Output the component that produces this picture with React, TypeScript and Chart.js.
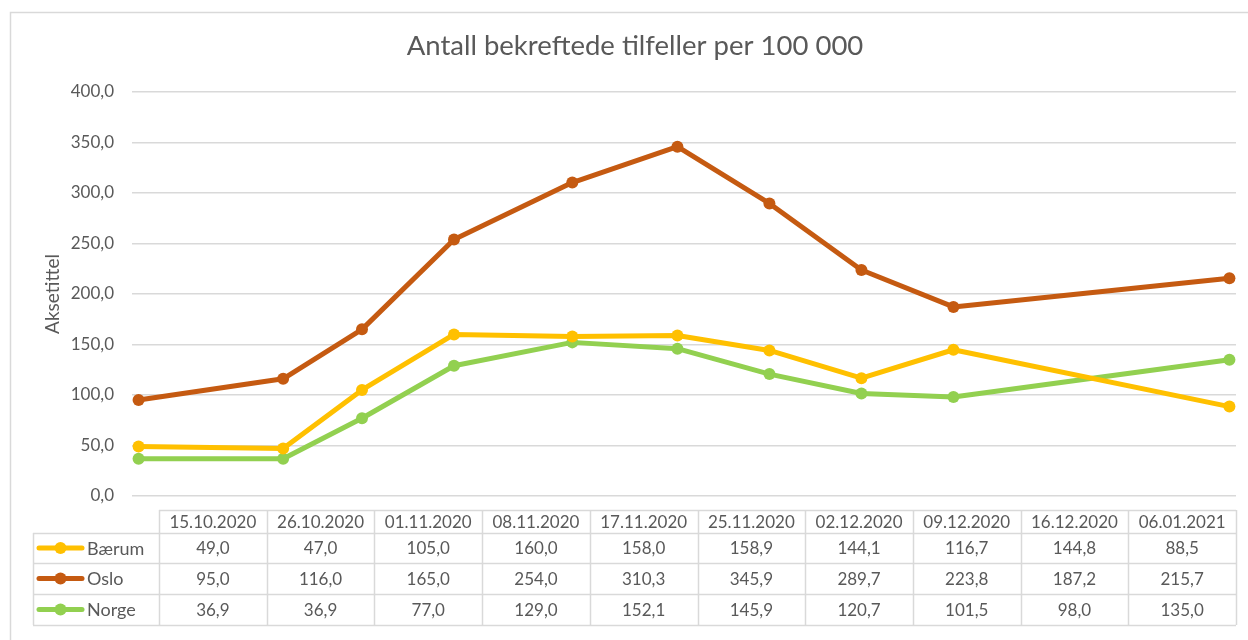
import React, { useEffect, useRef } from "react";
import { Chart, registerables } from "chart.js";

Chart.register(...registerables);

const categories = [
  "15.10.2020", "26.10.2020", "01.11.2020", "08.11.2020", "17.11.2020",
  "25.11.2020", "02.12.2020", "09.12.2020", "16.12.2020", "06.01.2021",
];
const seriesNames = ["Bærum", "Oslo", "Norge"];
const baerum = [49.0, 47.0, 105.0, 160.0, 158.0, 158.9, 144.1, 116.7, 144.8, 88.5];
const oslo = [95.0, 116.0, 165.0, 254.0, 310.3, 345.9, 289.7, 223.8, 187.2, 215.7];
const norge = [36.9, 36.9, 77.0, 129.0, 152.1, 145.9, 120.7, 101.5, 98.0, 135.0];
const seriesColors = ["#FFC000", "#C55A11", "#92D050"];
const titleText = "Antall bekreftede tilfeller per 100 000";
const yAxisTitle = "Aksetittel";
const yMin = 0;
const yMax = 400;
const yStep = 50;

const FONT = "Lato, 'Open Sans', sans-serif";
const TEXT = "#595959";
const GRID = "#d9d9d9";

const fmt = (v: number) => v.toFixed(1).replace(".", ",");

const dayNum = (s: string) => {
  const [d, m, y] = s.split(".").map(Number);
  return Date.UTC(y, m - 1, d) / 86400000;
};
const day0 = dayNum(categories[0]);
const xDays = categories.map((c) => dayNum(c) - day0);

const allSeries = [baerum, oslo, norge];

const frameAndTable = {
  id: "frameAndTable",
  beforeDraw(chart: any) {
    const ctx = chart.ctx as CanvasRenderingContext2D;
    ctx.save();
    ctx.fillStyle = "#ffffff";
    ctx.fillRect(0, 0, chart.width, chart.height);
    ctx.strokeStyle = GRID;
    ctx.lineWidth = 1.5;
    ctx.strokeRect(10.5, 12.5, chart.width + 40, chart.height + 40);
    ctx.restore();
  },
  afterDraw(chart: any) {
    const ctx = chart.ctx as CanvasRenderingContext2D;
    const right = chart.chartArea.right;
    const dataLeft = 159;
    const legendLeft = 33;
    const n = categories.length;
    const colW = (right - dataLeft) / n;
    const headerTop = 510;
    const rowEdges = [533, 563, 594, 625];
    ctx.save();
    ctx.strokeStyle = GRID;
    ctx.lineWidth = 1.5;
    ctx.beginPath();
    ctx.moveTo(dataLeft, headerTop + 0.5);
    ctx.lineTo(right, headerTop + 0.5);
    for (let i = 0; i <= n; i++) {
      const x = Math.round(dataLeft + i * colW) + 0.5;
      ctx.moveTo(x, headerTop);
      ctx.lineTo(x, rowEdges[rowEdges.length - 1]);
    }
    for (const y of rowEdges) {
      ctx.moveTo(legendLeft, y + 0.5);
      ctx.lineTo(right, y + 0.5);
    }
    ctx.moveTo(legendLeft + 0.5, rowEdges[0]);
    ctx.lineTo(legendLeft + 0.5, rowEdges[rowEdges.length - 1]);
    ctx.stroke();

    ctx.fillStyle = TEXT;
    ctx.font = `17px ${FONT}`;
    ctx.textAlign = "center";
    ctx.textBaseline = "middle";
    categories.forEach((c, i) => {
      ctx.fillText(c, dataLeft + (i + 0.5) * colW, (headerTop + rowEdges[0]) / 2 + 1);
    });
    allSeries.forEach((vals, r) => {
      const cy = (rowEdges[r] + rowEdges[r + 1]) / 2 + 1;
      vals.forEach((v, i) => {
        ctx.fillStyle = TEXT;
        ctx.textAlign = "center";
        ctx.fillText(fmt(v), dataLeft + (i + 0.5) * colW, cy);
      });
      ctx.strokeStyle = seriesColors[r];
      ctx.lineWidth = 5;
      ctx.lineCap = "round";
      ctx.beginPath();
      ctx.moveTo(39, cy - 1);
      ctx.lineTo(82, cy - 1);
      ctx.stroke();
      ctx.fillStyle = seriesColors[r];
      ctx.beginPath();
      ctx.arc(60.5, cy - 1, 6, 0, Math.PI * 2);
      ctx.fill();
      ctx.fillStyle = TEXT;
      ctx.textAlign = "left";
      ctx.font = `18px ${FONT}`;
      ctx.fillText(seriesNames[r], 87, cy);
      ctx.font = `17px ${FONT}`;
    });
    ctx.restore();
  },
};

export default function App() {
  const ref = useRef<HTMLCanvasElement | null>(null);
  useEffect(() => {
    if (!ref.current) return;
    const chart = new Chart(ref.current, {
      type: "line",
      data: {
        datasets: allSeries.map((vals, i) => ({
          label: seriesNames[i],
          data: vals.map((v, j) => ({ x: xDays[j], y: v })),
          borderColor: seriesColors[i],
          backgroundColor: seriesColors[i],
          borderWidth: 5,
          pointRadius: 6,
          pointBorderWidth: 0,
          pointHoverRadius: 6,
          tension: 0,
          borderCapStyle: "round" as const,
          borderJoinStyle: "round" as const,
        })),
      },
      options: {
        animation: false,
        responsive: false,
        events: [],
        layout: { padding: { left: 34, right: 12, top: 0, bottom: 144 } },
        plugins: {
          legend: { display: false },
          tooltip: { enabled: false },
          title: {
            display: true,
            text: titleText,
            color: TEXT,
            font: { family: FONT, size: 27.5, weight: "normal" },
            padding: { top: 30, bottom: 29 },
          },
        },
        scales: {
          x: {
            type: "linear",
            display: false,
            min: xDays[0] - 0.5,
            max: xDays[xDays.length - 1] + 0.5,
          },
          y: {
            min: yMin,
            max: yMax,
            border: { display: false },
            grid: { color: GRID, lineWidth: 1.5, drawTicks: false },
            ticks: {
              stepSize: yStep,
              color: TEXT,
              padding: 18,
              font: { family: FONT, size: 17 },
              callback: (v: any) => fmt(Number(v)),
            },
            title: {
              display: true,
              text: yAxisTitle,
              color: TEXT,
              font: { family: FONT, size: 19 },
              padding: { top: 7, bottom: 0 },
            },
            afterFit: (scale: any) => {
              scale.width = 98;
            },
          },
        },
      },
      plugins: [frameAndTable],
    });
    return () => chart.destroy();
  }, []);
  return (
    <div style={{ position: "absolute", left: 0, top: 0, width: 1248, height: 640 }}>
      <canvas ref={ref} width={1248} height={640} style={{ display: "block" }} />
    </div>
  );
}
